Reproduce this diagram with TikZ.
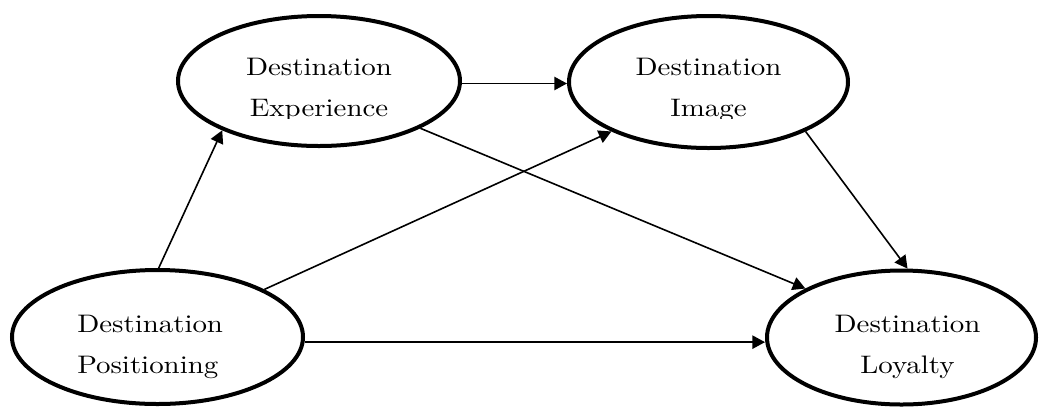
\documentclass[tikz,border=0pt]{standalone}
\usepackage{fontspec}
\setmainfont{lmroman10-regular.otf}[FakeStretch=1.14]
\usetikzlibrary{arrows.meta,shapes.geometric}
\begin{document}
\begin{tikzpicture}[x=0.75pt,y=-0.75pt,
  oval/.style={draw=black, line width=3pt, ellipse, inner sep=0pt},
  lbl/.style={align=center, inner sep=0pt, font=\fontsize{19pt}{30.5pt}\selectfont},
  conn/.style={line width=1.2pt, -{Triangle[length=9.5pt,width=10pt]}},
  plain/.style={line width=1.2pt}]
\useasboundingbox (0,0) rectangle (1039,412);
\fill[white] (0,0) rectangle (1039,412);
% ellipses
\node[oval, minimum width=211.5pt, minimum height=97.5pt] (exp) at (319,81) {};
\node[oval, minimum width=209.25pt, minimum height=99pt] (img) at (708.5,82) {};
\node[oval, minimum width=218.25pt, minimum height=100.5pt] (pos) at (157.5,337) {};
\node[oval, minimum width=201.75pt, minimum height=100.5pt] (loy) at (901.5,337.5) {};
% labels
\begin{scope}
\clip (0,0) rectangle (1039,118);
\node[lbl, anchor=base] (expT) at (319,116) {Destination\\Experience};
\node[lbl, anchor=base] (imgT) at (708.5,116) {Destination\\Image};
\end{scope}
\node[lbl, align=left, anchor=base west] (posT) at (77,373) {Destination\\Positioning};
\node[lbl, anchor=base] (loyT) at (907.5,373) {Destination\\Loyalty};
% connectors
\draw[conn] (pos.89) -- (exp.207.7);
\draw[conn] (pos.24.5) -- (img.207.1);
\draw[conn] (pos.-2.4) -- (pos.-2.4 -| loy.west);
\draw[conn] (exp.-1) -- (exp.-1 -| img.west);
\draw[conn] (exp.-25.9) -- (loy.153.8);
\draw[conn] (img.-27.1) -- (loy.85.5);
\end{tikzpicture}
\end{document}
